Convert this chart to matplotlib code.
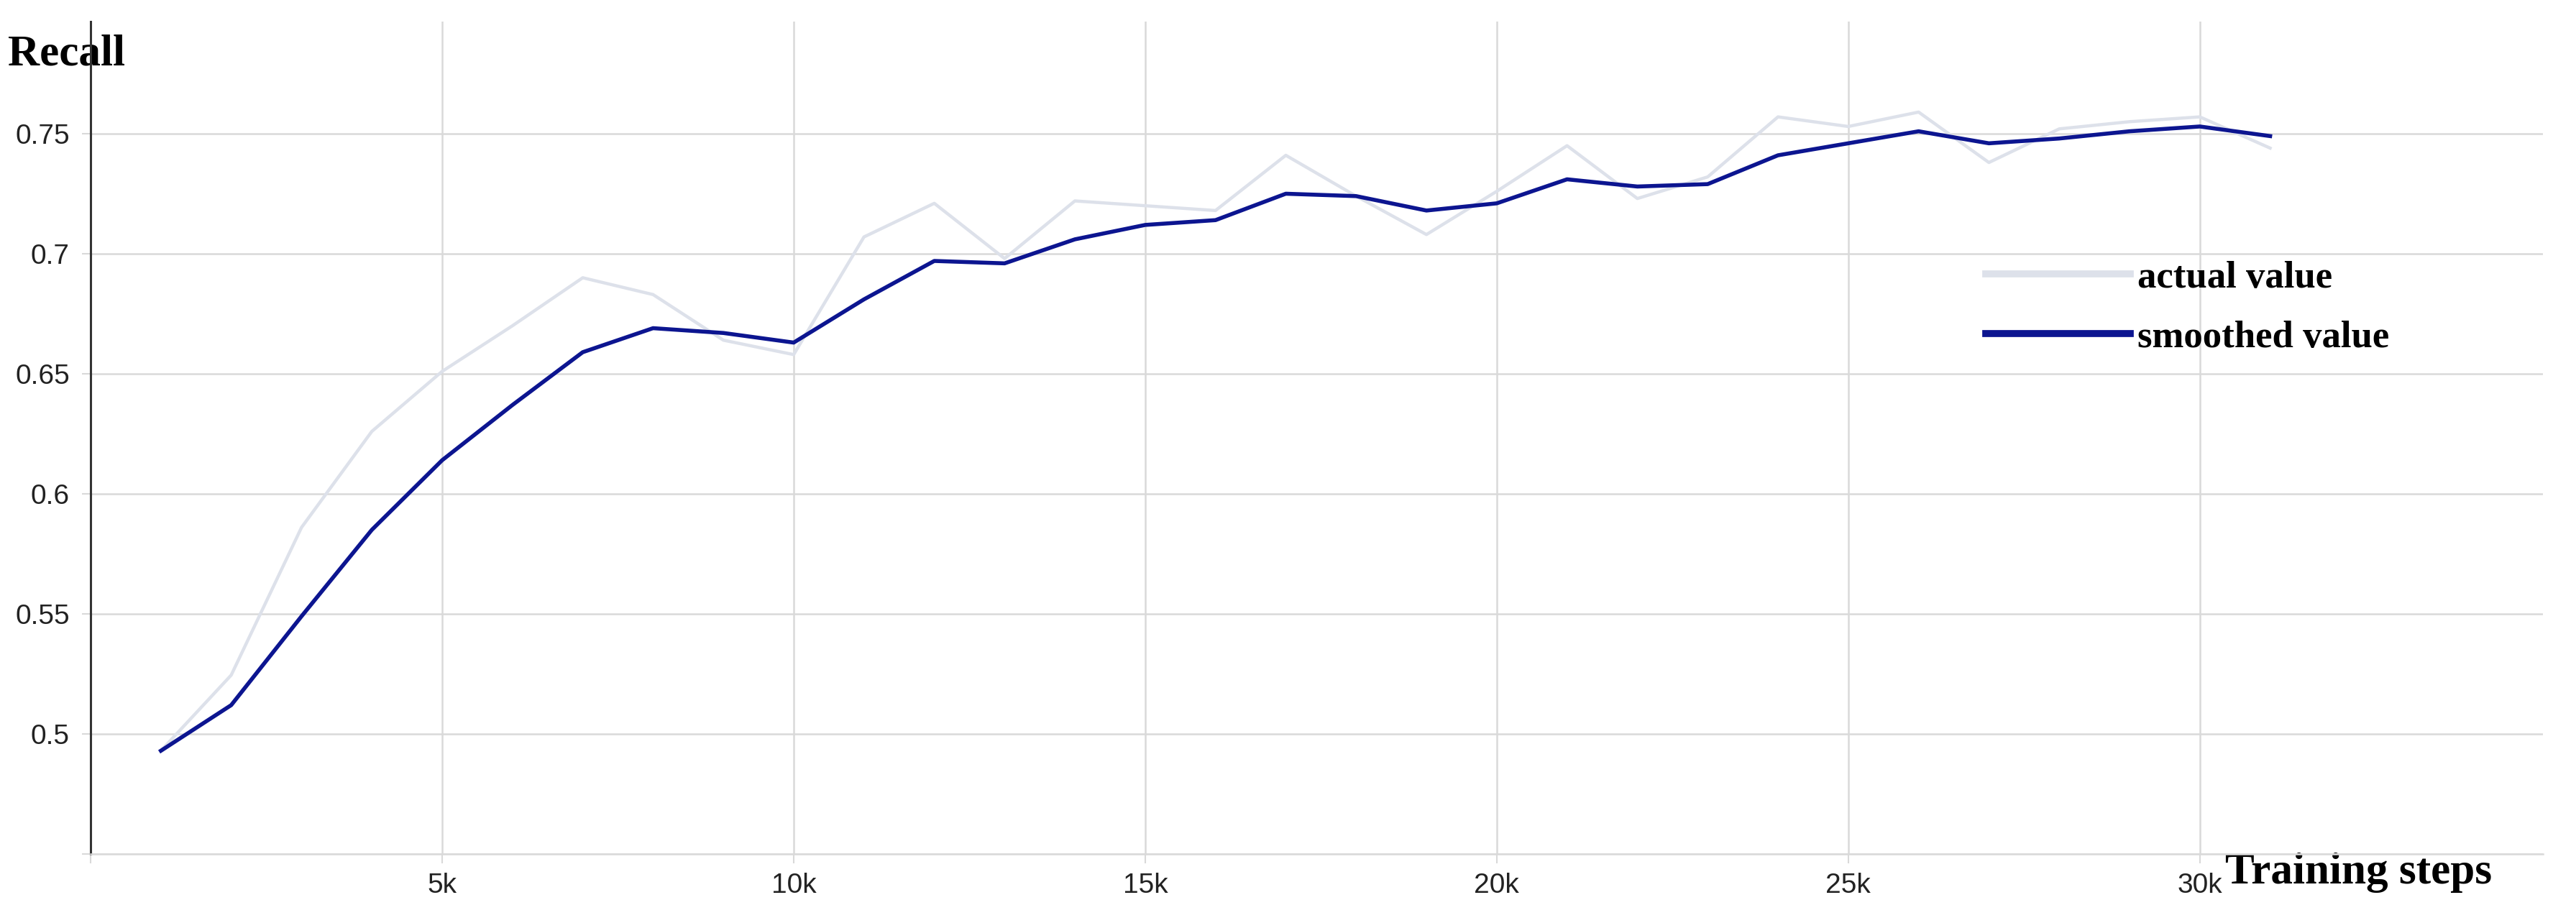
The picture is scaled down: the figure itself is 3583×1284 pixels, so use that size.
import matplotlib.pyplot as plt

# Datos
steps = [1000, 2000, 3000, 4000, 5000, 6000, 7000, 8000, 9000, 10000,
         11000, 12000, 13000, 14000, 15000, 16000, 17000, 18000, 19000, 20000,
         21000, 22000, 23000, 24000, 25000, 26000, 27000, 28000, 29000, 30000, 31000]
actual = [0.493, 0.5245, 0.586, 0.626, 0.651, 0.670, 0.690, 0.683, 0.664, 0.658,
          0.707, 0.721, 0.698, 0.722, 0.720, 0.718, 0.741, 0.724, 0.708, 0.726,
          0.745, 0.723, 0.732, 0.757, 0.753, 0.759, 0.738, 0.752, 0.755, 0.757, 0.744]
smoothed = [0.493, 0.512, 0.549, 0.585, 0.614, 0.637, 0.659, 0.669, 0.667, 0.663,
            0.681, 0.697, 0.696, 0.706, 0.712, 0.714, 0.725, 0.724, 0.718, 0.721,
            0.731, 0.728, 0.729, 0.741, 0.746, 0.751, 0.746, 0.748, 0.751, 0.753, 0.749]

xticks = [0, 5000, 10000, 15000, 20000, 25000, 30000]
xtick_labels = ['', '5k', '10k', '15k', '20k', '25k', '30k']
yticks = [0.45, 0.5, 0.55, 0.6, 0.65, 0.7, 0.75]
ytick_labels = ['', '0.5', '0.55', '0.6', '0.65', '0.7', '0.75']

color_actual = '#dde1ea'
color_smooth = '#0c1590'
grid_color = '#d9d9d9'

fig = plt.figure(figsize=(35.83, 12.84), dpi=100)
ax = fig.add_axes([126 / 3583, 1 - 1188 / 1284, (3537 - 126) / 3583, 1158 / 1284])

# Curvas
ax.plot(steps, actual, color=color_actual, linewidth=3.2, label='actual value', zorder=2)
ax.plot(steps, smoothed, color=color_smooth, linewidth=4.0, label='smoothed value', zorder=3)

ax.set_xlim(0, 34880)
ax.set_ylim(0.45, 0.7967)

ax.set_xticks(xticks)
ax.set_xticklabels(xtick_labels)
ax.set_yticks(yticks)
ax.set_yticklabels(ytick_labels)

for lab in ax.get_xticklabels() + ax.get_yticklabels():
    lab.set_fontfamily('Liberation Sans')
    lab.set_fontsize(28)
    lab.set_color('#222222')

ax.tick_params(axis='both', length=9, width=1.5, color=grid_color)
ax.tick_params(axis='y', pad=12)
ax.tick_params(axis='x', pad=10)

# Rejilla y ejes
ax.grid(True, color=grid_color, linewidth=1.8, zorder=0)
ax.set_axisbelow(True)
for s in ['top', 'right']:
    ax.spines[s].set_visible(False)
ax.spines['bottom'].set_color(grid_color)
ax.spines['bottom'].set_linewidth(1.8)
ax.spines['left'].set_color('#333333')
ax.spines['left'].set_linewidth(2.2)

# Etiquetas
ax.set_ylabel('Recall', rotation=0, fontsize=44, fontweight='bold',
              fontfamily='Liberation Serif', va='center', ha='center')
ax.yaxis.set_label_coords(-0.0097, 0.961)
ax.set_xlabel('Training steps', fontsize=44, fontweight='bold',
              fontfamily='Liberation Serif', va='center', ha='center')
ax.xaxis.set_label_coords(0.9247, -0.0225)

leg = ax.legend(loc='center left', bbox_to_anchor=(0.7728, 0.656), frameon=False,
                prop={'family': 'Liberation Serif', 'weight': 'bold', 'size': 38},
                handlelength=3.8, handletextpad=0.2, labelspacing=0.66,
                borderpad=0, borderaxespad=0)
for line in leg.get_lines():
    line.set_linewidth(7)

fig.savefig('out.png', dpi=100)
